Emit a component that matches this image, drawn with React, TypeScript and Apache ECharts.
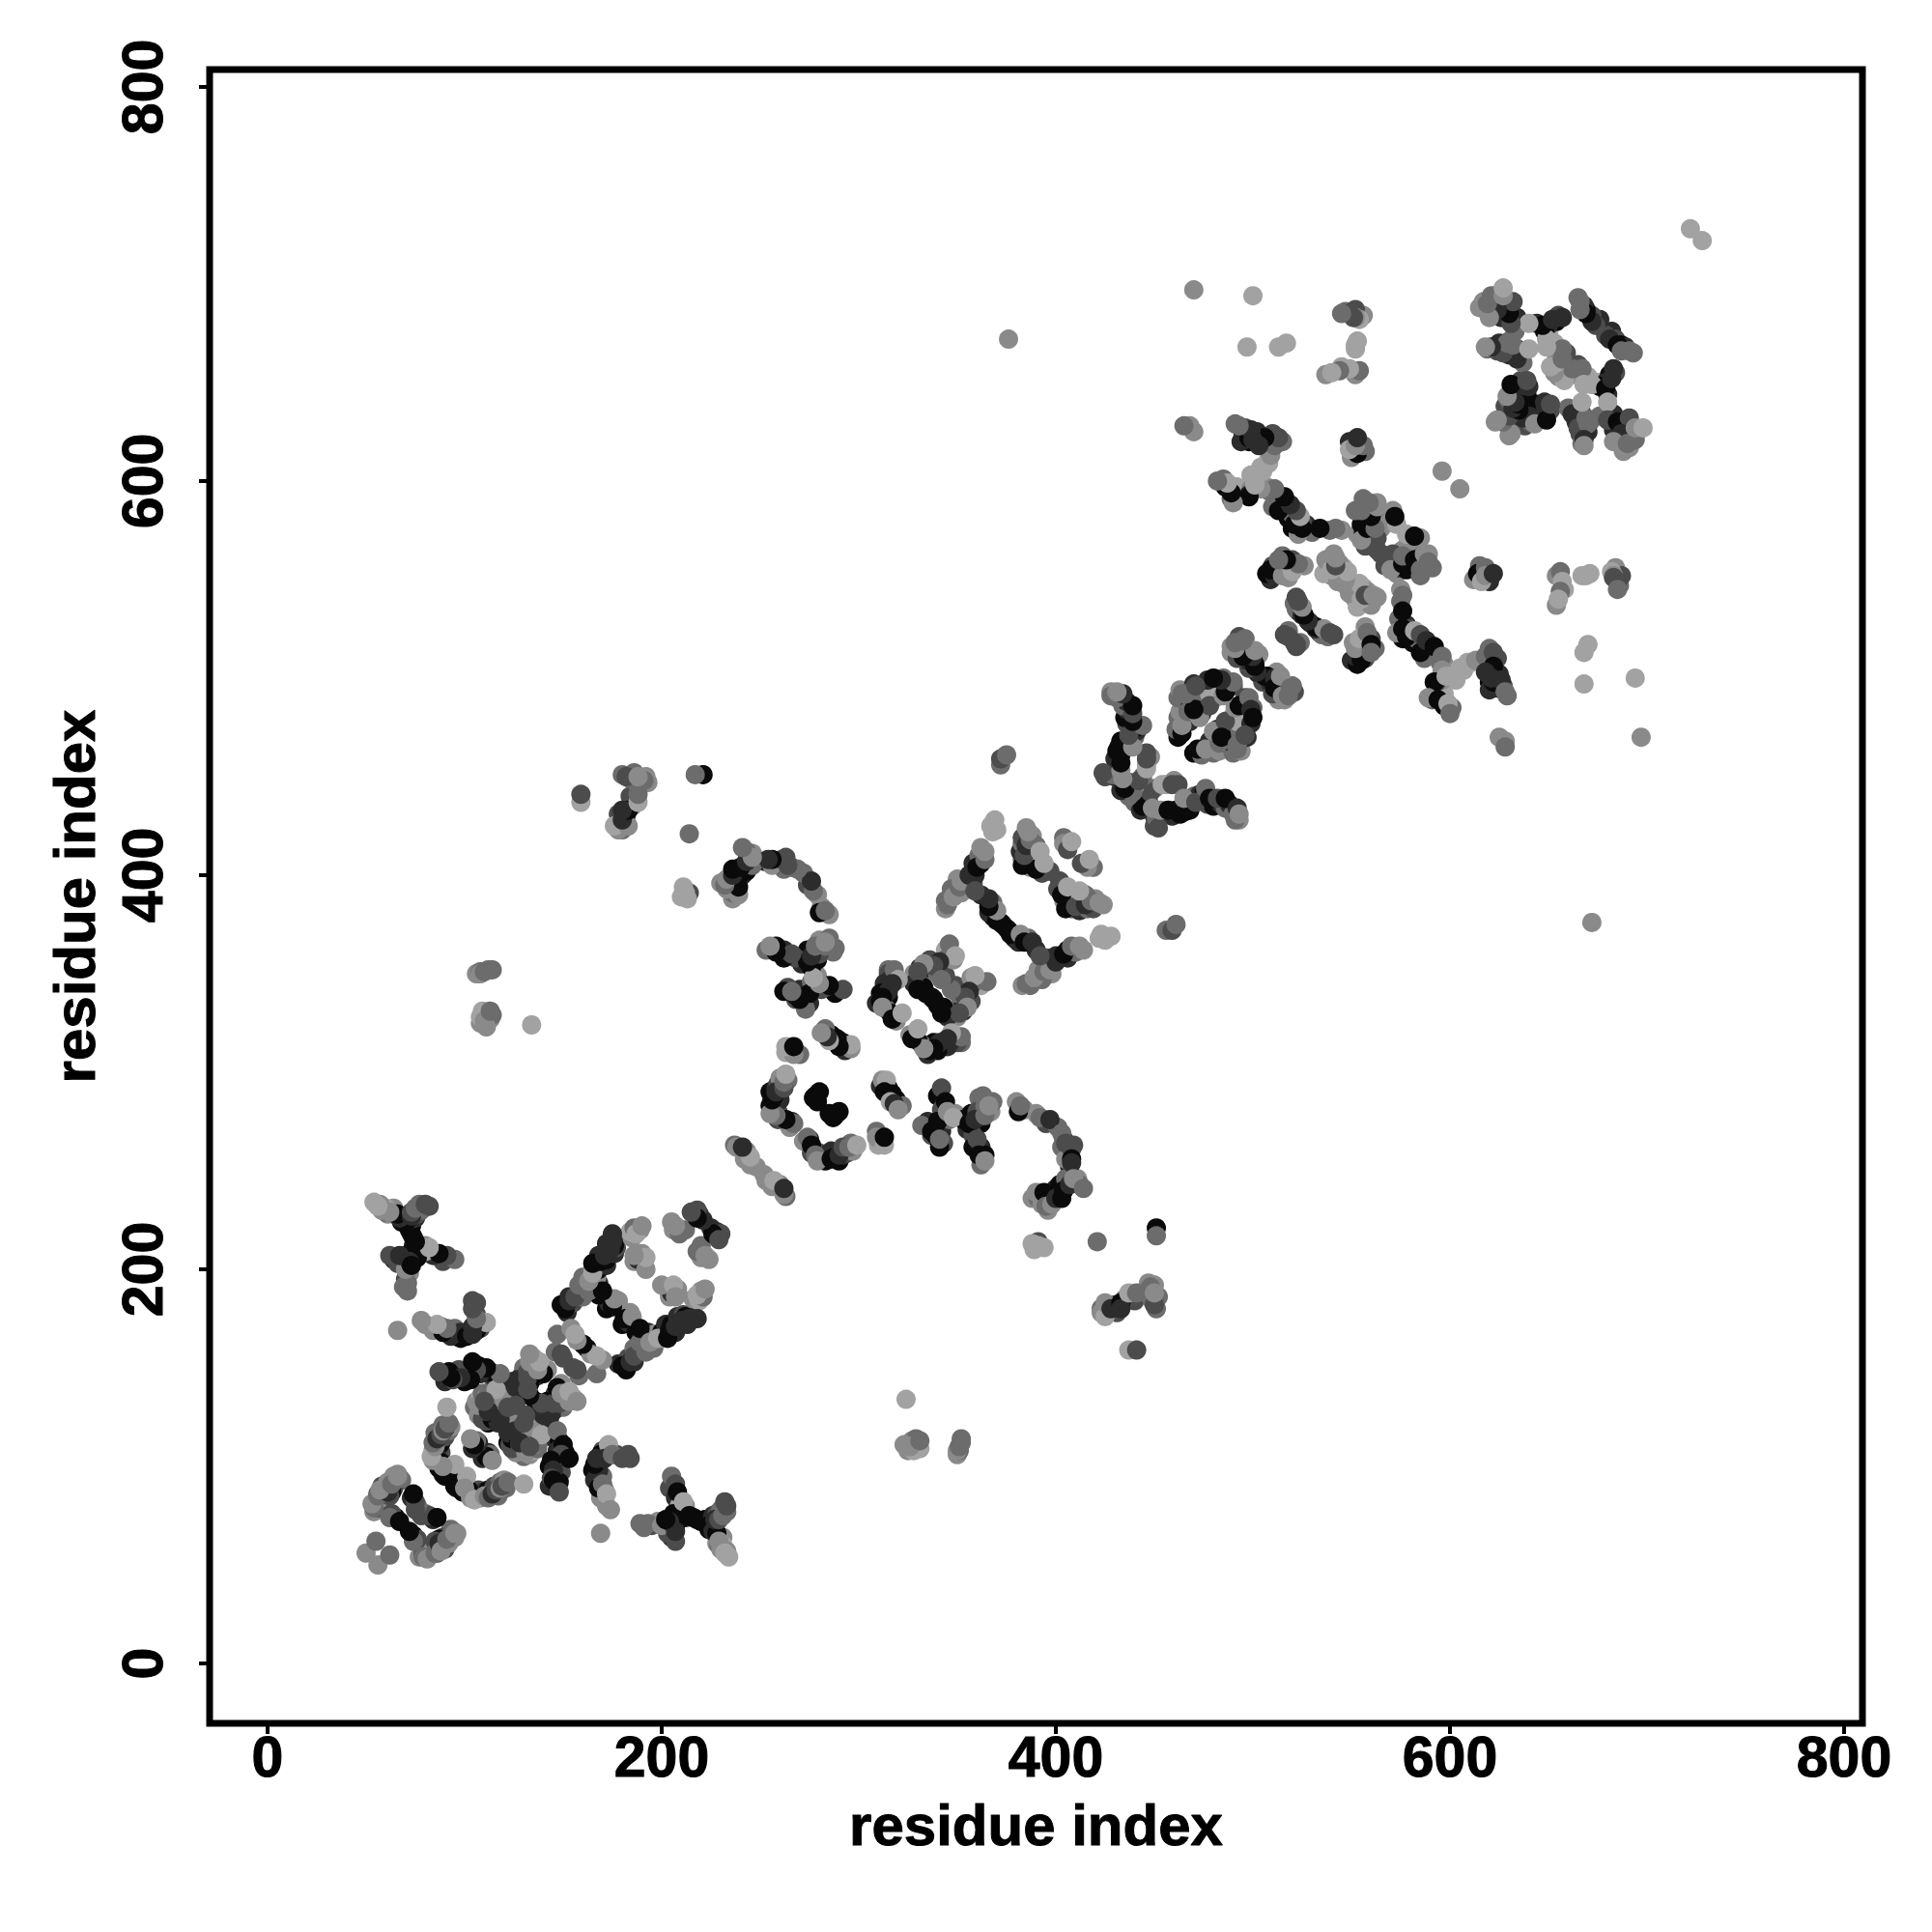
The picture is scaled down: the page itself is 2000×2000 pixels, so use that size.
import React, { useEffect, useRef } from "react";
import * as echarts from "echarts";

type Contact = [number, number, number];

const axisTicks = [0, 200, 400, 600, 800];
const axisTitle = "residue index";
const greys = ["#0a0a0a", "#2c2c2c", "#4c4c4c", "#6c6c6c", "#8a8a8a", "#a2a2a2"];

// each entry: residue i, residue j (i > j), grey level index. The map is symmetric.
const firstDomainUnder: Contact[] = [
  [77,54,4],[79,56,2],[82,55,4],[83,56,3],[84,58,4],[86,56,2],[86,59,3],[89,60,0],[90,58,2],[90,62,2],[92,64,4],[93,63,2],[95,64,4],[96,66,4],[93,68,3],[89,64,2],[87,63,0],
  [74,65,0],[76,63,2],[84,73,1],[80,76,3],[78,75,2],
  [98,92,0],[96,89,1],[99,87,0],[106,85,4],[108,84,4],[107,88,2],[110,87,1],[112,88,0],[113,85,3],[115,90,2],[117,85,3],[118,92,3],[120,93,4],[121,89,3],[112,107,1],[113,106,3],[109,104,1],
  [122,112,0],[125,116,1],[123,111,2],[128,113,1],[129,118,2],[130,112,4],[130,105,3],[133,106,4],[133,112,3],[135,108,5],[136,115,4],[138,113,3],[137,118,3],[140,119,3],[141,115,3],[131,120,4],[126,107,4],[124,109,2],
  [137,128,1],[136,133,0],[138,127,0],[141,131,2],[143,130,1],[144,134,3],[146,129,1],[146,135,2],[148,135,4],[150,130,3],[150,136,3],[151,134,4],[155,135,5],[149,142,4],[146,137,1],[141,125,2],[143,124,1],[142,133,0],[148,138,0],
  [146,114,1],[148,113,0],[151,107,0],[147,108,1],[150,104,1],[147,100,0],[146,102,1],[143,100,0],[149,97,2],[146,90,2],[143,90,1],[148,92,0],
  [170,108,2],[172,107,1],[169,106,0],[168,102,0],[165,98,0],[167,100,1],[167,94,2],[166,93,1],[170,95,3],[171,88,3],[169,84,4],[172,80,4],[177,106,2],[183,106,2],
  [195,70,2],[191,69,3],[198,72,4],[204,89,2],[207,84,1],[209,80,5],[212,80,4],[206,76,0],[203,70,1],[205,68,0],[205,64,1],[207,70,3],[203,66,2],[210,76,0],[212,74,1],[209,73,0],[218,73,0],[220,72,0],[222,73,0],[225,72,1],[226,75,1],[228,76,2],[230,78,3],[232,82,2],[233,77,3],[224,68,0],[227,69,2],[228,61,4],[231,64,4],[229,60,3],[231,60,5],[233,57,4],
  [155,150,2],[158,146,3],[180,172,0],[183,173,1],[184,178,4],[187,168,0],[182,149,0],[178,152,1],[183,155,2],[186,153,1],[188,158,2],[186,160,3],[191,161,1],[191,165,4],[193,168,1],[196,160,3],[196,167,4],[200,165,4],[200,168,0],[202,172,1],[205,172,0],[207,168,1],[208,176,1],[211,177,2],[213,172,1],[216,176,1],[212,176,0],[203,190,3],[204,186,4],[208,190,4],[220,189,4],[216,185,4],[219,184,5],[228,219,1],[225,221,1],[230,218,2],[220,206,4],[220,212,3],[224,205,4],
];
const secondDomainUnder: Contact[] = [
  [272,265,4],[276,259,2],[275,266,1],[280,259,2],[281,256,3],[284,258,1],[283,255,0],[286,260,1],[290,255,0],[292,258,1],[294,259,2],[297,260,4],[296,264,3],[290,280,0],[285,279,0],
  [311,293,1],[315,292,0],[319,286,0],[322,283,3],[315,290,2],[309,270,3],[310,263,5],[252,248,4],[256,242,4],[260,243,4],[263,237,3],
  [340,288,0],[343,283,1],[335,275,1],[339,272,0],[337,268,2],[343,275,1],[342,270,1],[339,268,0],[343,264,2],[346,276,3],[349,279,4],[342,281,2],
  [361,287,3],[355,271,1],[353,276,0],[357,279,0],[360,280,2],[362,274,0],[364,283,3],[367,280,4],[368,285,3],[358,268,2],[358,262,0],[362,262,1],[364,258,0],[362,253,3],
  [380,285,4],[384,281,4],[390,279,4],[395,274,2],[401,272,3],[404,266,2],[403,262,3],[409,263,2],[406,258,2],[407,252,1],[405,256,4],
  [388,236,4],[391,236,3],[393,236,1],[396,236,1],[398,237,0],[400,241,1],[402,243,0],[405,246,3],[411,246,4],[412,243,3],[396,230,4],[393,233,4],
  [389,210,5],[391,214,2],[423,180,3],[423,178,4],[430,182,2],[431,178,2],[435,185,3],[440,184,2],[446,188,4],[452,186,3],[449,184,3],[447,193,4],[450,192,4],[451,180,3],
  [325,108,4],[327,113,4],[329,111,1],[329,114,3],[328,108,5],[350,106,4],[352,114,3],[351,108,3],
];
const thirdDomainUnder: Contact[] = [
  [362,344,5],[358,345,3],[352,335,3],[357,336,2],[353,331,1],[350,328,4],[353,335,1],[352,315,3],[349,318,4],[350,315,2],[347,316,1],[343,314,1],[345,313,1],[340,311,0],[338,315,0],[335,309,1],[332,314,3],[330,316,0],[326,319,4],[343,333,0],[345,328,1],[338,337,0],[350,340,3],[349,344,2],[357,348,4],
  [376,372,0],[379,368,0],[381,366,1],[386,368,3],[390,362,1],[394,356,3],[396,358,2],[398,350,4],[393,347,3],[387,344,3],[383,344,4],[391,352,4],[402,358,0],[406,358,1],[406,362,0],[410,361,3],[414,362,4],[398,355,0],[400,359,1],
  [401,393,2],[404,387,4],[407,390,3],[408,383,3],[405,383,0],[412,382,1],[413,388,5],[416,383,3],[419,383,2],[420,388,4],[424,385,4],[410,389,5],[415,390,3],[423,370,5],[425,367,5],[419,404,3],[416,404,4],
];
const fourthDomainUnder: Contact[] = [
  [440,437,3],[443,433,1],[446,437,1],[445,440,4],[447,437,0],[450,430,1],[450,425,2],[451,429,3],[455,431,4],[459,430,1],[463,431,0],[468,433,0],[467,436,1],[470,440,3],[473,441,1],[475,441,0],[477,436,2],[480,435,0],[484,436,1],[486,434,3],[488,436,1],[490,431,3],[493,428,4],[491,428,3],[450,444,3],[456,446,5],[460,448,4],
  [470,462,0],[474,461,3],[480,462,3],[483,463,4],[488,466,3],[490,462,3],[494,468,2],[478,468,1],[482,474,1],[485,468,0],[489,472,3],[495,487,1],[497,482,0],[500,485,3],[496,490,2],[490,481,5],[492,478,5],[499,477,1],[494,463,4],
  [503,502,1],[505,498,2],[509,497,1],[512,503,4],[513,498,0],[516,496,3],[516,489,4],[518,491,4],[521,493,2],[520,496,3],[513,489,4],[510,492,2],
  [524,518,3],[521,518,2],[529,528,1],[534,523,0],[538,521,3],[541,522,2],[535,522,3],
];
const fifthDomainUnder: Contact[] = [
  [550,544,5],[552,540,4],[550,547,4],[556,546,5],[558,544,4],[559,540,3],[563,541,4],[553,536,5],[560,537,4],
  [550,509,1],[553,507,0],[557,510,2],[554,512,3],[556,518,2],[551,518,4],[562,515,3],[560,520,2],[557,526,4],[553,515,0],
  [568,562,3],[572,560,2],[567,557,2],[573,553,4],[574,556,1],[578,555,0],[576,565,4],[581,564,0],[578,560,1],[584,558,0],[583,562,3],[587,558,3],[585,552,3],[589,563,4],[591,556,3],[579,569,4],[585,571,4],
  [575,545,4],[574,530,3],[578,527,1],[576,520,0],[581,518,0],[579,525,2],[583,520,3],[588,516,0],[590,512,1],[593,513,1],[587,510,3],[595,508,3],[597,507,4],[594,496,2],[597,492,5],[591,489,3],[597,486,0],[601,485,3],[603,499,5],[607,504,5],[596,499,4],[611,508,5],
  [619,508,2],[620,515,3],[624,510,2],[620,504,1],[620,498,0],[625,502,1],[624,495,0],[627,496,2],[629,491,3],[620,494,1],
  [612,550,4],[615,557,3],[620,549,1],[654,552,4],[658,545,5],[654,537,4],[686,547,3],[684,556,4],[687,552,2],[669,552,5],
];
const sixthDomainUnder: Contact[] = [
  [630,627,3],[633,630,2],[636,635,0],[638,628,2],[641,630,3],[642,636,1],[646,634,2],[644,639,0],[648,636,1],[651,636,2],
  [655,653,4],[660,654,5],[664,654,4],[665,659,2],[670,653,5],[675,650,5],[681,654,0],[679,650,1],[684,655,2],[680,644,1],[676,648,0],
  [682,676,1],[684,672,2],[687,669,0],[689,668,1],[693,665,3],
  [664,630,1],[667,634,0],[671,630,3],[666,624,2],[670,625,1],[660,637,3],[667,619,3],
  [676,633,3],[683,634,1],[688,628,1],[690,626,2],[686,620,3],[692,624,3],[689,630,1],[685,625,0],[691,617,4],[683,626,1],[695,625,4],
];

const firstDomain: Contact[] = [
  [56,50,4],[62,55,3],[74,62,3],[72,67,0],[82,75,2],[86,74,0],
  [79,54,3],[81,53,4],[85,62,2],[85,56,3],[87,61,1],[88,58,1],[88,57,4],[92,61,4],[91,63,3],[94,67,3],[95,66,4],
  [102,88,0],[95,90,0],[101,95,5],[103,84,4],[100,89,4],[105,83,5],[110,85,4],[112,84,3],[111,105,0],[114,103,4],
  [114,86,1],[116,88,2],[118,89,4],[119,90,2],[122,92,3],[130,91,5],
];
const centralCross: Contact[] = [
  [124,114,0],[122,117,1],[127,115,0],[126,119,1],[127,122,4],[128,111,2],[132,116,3],[131,107,4],[132,109,4],[137,109,3],[135,111,4],[136,112,3],[134,120,4],[139,116,5],
  [139,132,1],[140,126,1],[142,129,1],[144,127,1],[145,132,2],[148,132,2],[147,140,0],[149,137,4],[153,133,4],[153,138,5],[157,133,4],
  [147,118,3],[150,111,0],[149,106,2],[144,103,0],[153,104,0],[145,98,1],[144,94,2],[145,93,0],[148,87,2],
  [128,112,1],[133,110,2],[124,118,1],[130,122,2],[131,126,2],[139,132,2],
];
const firstArms: Contact[] = [
  [173,111,5],[168,98,1],[166,101,0],[167,104,1],[171,104,1],[175,106,3],[180,104,2],[184,104,2],[168,89,0],[170,91,3],[172,86,5],[174,78,4],[169,66,4],
  [189,71,3],[193,71,3],[200,70,4],[205,95,3],[207,91,2],[208,87,0],[211,82,5],[207,62,2],[207,67,1],[204,72,1],[202,73,0],[214,75,0],[216,74,0],
  [224,70,0],[226,67,1],[228,66,0],[227,73,1],[229,73,2],[231,75,3],[233,80,2],[229,62,4],[230,58,4],[232,56,5],[234,54,5],
];
const firstLoop: Contact[] = [
  [157,149,2],[167,147,3],[162,160,0],[164,157,4],[170,154,4],[167,156,5],
  [181,175,0],[185,176,4],[180,151,0],[182,151,0],[184,153,1],[186,156,2],[192,158,3],[189,163,3],[189,170,0],[194,163,4],[198,165,5],
  [203,165,0],[204,169,0],[207,171,1],[210,174,1],[214,175,1],[218,175,1],
  [205,188,1],[200,192,4],[206,192,5],[207,186,4],[221,186,3],[218,187,5],[222,190,4],[226,218,0],[229,215,2],[218,209,3],[222,207,4],
];
const secondDomain: Contact[] = [
  [253,245,4],[257,245,5],[262,238,4],[262,241,1],
  [274,267,3],[276,263,0],[278,258,3],[279,255,4],[286,256,0],[288,257,0],[288,278,0],[287,277,0],[290,258,1],[292,262,2],[295,262,3],[299,263,5],
  [312,296,4],[314,296,5],[313,290,0],[317,289,0],[316,285,5],[318,284,1],[320,281,4],[309,267,4],[313,263,5],[313,267,0],
  [342,292,2],[344,285,0],[332,273,3],[337,270,0],[340,275,0],[341,262,0],[341,266,3],[345,280,4],[348,277,5],
  [363,288,3],[356,274,0],[359,276,1],[364,278,3],[366,283,4],[360,266,2],[361,258,0],[364,255,4],
  [381,280,0],[382,283,3],[392,277,3],[397,276,1],[403,269,3],[405,264,2],[408,261,2],[408,256,0],[408,254,1],
  [390,239,4],[394,239,0],[395,232,3],[398,233,4],[400,236,1],[403,236,0],[404,240,0],[407,243,1],[409,246,4],[414,241,3],
  [388,213,5],[394,211,5],[391,212,5],[421,214,3],[451,221,0],[451,217,3],
  [425,176,5],[425,183,4],[428,180,1],[433,183,0],[433,180,1],[437,188,5],[441,188,3],[450,182,2],[448,191,3],[450,188,4],
  [437,159,5],[441,159,2],
  [324,134,5],[323,111,4],[331,109,5],[326,110,4],[331,113,3],[350,108,4],[351,110,3],[352,112,3],
];
const thirdDomain: Contact[] = [
  [365,346,3],[359,349,5],[356,341,1],[354,338,2],[355,333,4],[351,330,2],[352,318,3],[347,320,5],[345,317,1],[341,315,1],[338,312,0],[336,311,0],
  [333,312,4],[327,317,0],[330,322,5],[342,330,0],[340,334,0],[347,342,3],
  [375,373,0],[377,370,0],[382,370,4],[384,366,0],[388,366,1],[385,345,3],[389,348,4],[394,351,3],[397,352,4],[400,356,1],[392,359,2],[404,360,0],[408,364,3],[412,364,4],
  [402,397,2],[403,390,0],[406,394,5],[410,384,2],[415,385,1],[418,387,3],[412,392,5],[422,386,4],[413,406,2],[417,408,5],[422,368,5],[428,369,5],
  [456,372,3],[459,372,2],[461,375,3],
];
const fourthDomain: Contact[] = [
  [442,439,3],[444,435,0],[448,442,2],[449,434,4],[452,424,2],[453,433,4],[457,433,0],[461,433,0],[465,432,0],[454,446,5],[459,446,2],[462,446,2],[465,439,4],[471,437,2],[476,444,3],[478,439,0],[482,439,2],[486,439,0],[492,434,1],[493,431,4],
  [472,464,0],[476,464,4],[483,467,3],[484,471,0],[480,473,4],[486,478,2],[484,470,0],[492,464,3],[491,485,4],[493,486,0],[497,470,1],[492,466,3],[496,471,2],[498,490,3],[499,484,1],[500,480,0],
  [506,501,0],[507,501,0],[511,500,1],[511,495,0],[515,491,4],[514,501,4],[519,495,3],[518,491,3],
  [517,522,2],[522,516,2],[532,525,1],[532,526,0],[536,525,4],[539,523,2],
];
const fifthDomain: Contact[] = [
  [549,543,4],[548,546,4],[554,548,5],[555,540,5],[557,542,2],[561,542,4],
  [552,511,1],[555,509,0],[552,515,4],[554,520,5],[558,523,3],[560,517,0],[560,513,3],
  [565,563,2],[571,563,2],[570,555,4],[576,558,0],[576,562,3],[578,573,5],[582,572,0],[582,560,0],[585,555,3],[587,563,4],[589,559,3],
  [576,542,3],[575,539,3],[576,534,0],[573,523,4],[576,525,0],[578,521,0],[582,524,5],[585,522,2],[585,513,0],[588,519,1],[592,516,0],[596,511,3],[596,504,4],
  [593,498,1],[592,498,0],[598,501,5],[589,490,4],[594,489,0],[599,487,5],[600,482,3],[600,501,5],[605,505,5],[609,508,5],[613,509,4],
  [618,511,3],[622,513,2],[622,506,0],[618,503,1],[622,498,0],[621,500,1],[626,499,1],[628,493,3],
  [614,553,0],[618,556,3],[616,549,5],[618,552,4],[622,553,1],
  [625,470,4],[628,468,4],[628,465,3],
  [605,596,4],[630,623,4],
  [656,554,3],[657,549,5],[656,544,3],[655,540,5],[667,552,5],[671,553,5],[682,554,5],[683,552,4],[683,551,2],[685,549,2],[685,545,3],
  [668,513,5],[670,517,5],[668,497,5],[694,500,5],[697,470,4],[672,376,4],
];
const sixthDomain: Contact[] = [
  [631,624,4],[637,632,1],[639,635,0],[640,633,1],[643,629,4],[649,631,0],[648,640,1],[651,639,2],
  [658,651,5],[662,657,3],[667,657,3],[668,649,5],[672,649,5],[679,647,0],[682,652,1],[683,657,1],
  [679,674,2],[681,672,1],[685,669,0],[687,666,3],[691,666,3],
  [662,634,1],[665,627,2],[669,632,3],[670,629,3],[668,621,1],[668,618,4],[667,640,5],[680,640,5],
  [680,631,2],[685,630,0],[691,632,2],[687,624,1],[683,620,4],[688,615,4],[690,619,3],[694,621,3],[694,627,4],[698,627,5],
  [728,722,5],
];

const lowerHalf: Contact[] = [
  ...firstDomainUnder, ...secondDomainUnder, ...thirdDomainUnder, ...fourthDomainUnder, ...fifthDomainUnder, ...sixthDomainUnder,
  ...firstDomain, ...centralCross, ...firstArms, ...firstLoop,
  ...secondDomain, ...thirdDomain, ...fourthDomain, ...fifthDomain, ...sixthDomain,
];
const mirrored: Contact[] = lowerHalf.map(([i, j, s]) => [j, i, s]);

const axis = (title: string, rotate: number, min: number, max: number, nameGap: number, margin: number) => ({
  type: "value",
  min,
  max,
  name: title,
  nameLocation: "middle",
  nameGap,
  nameTextStyle: { fontFamily: "Liberation Sans", fontWeight: "bold", fontSize: 60, color: "#000", textBorderColor: "#000", textBorderWidth: 1 },
  splitLine: { show: false },
  axisLine: { show: false, onZero: false },
  axisTick: { show: true, length: 11, inside: false, customValues: axisTicks, lineStyle: { color: "#000", width: 4 } },
  axisLabel: {
    show: true,
    customValues: axisTicks,
    rotate,
    margin,
    hideOverlap: false,
    fontFamily: "Liberation Sans",
    fontWeight: "bold",
    fontSize: 59,
    color: "#000",
    textBorderColor: "#000",
    textBorderWidth: 1,
  },
});

export default function App() {
  const ref = useRef<HTMLDivElement>(null);
  useEffect(() => {
    const chart = echarts.init(ref.current!, undefined, { renderer: "svg" });
    chart.setOption({
      animation: false,
      backgroundColor: "#fff",
      grid: { left: 217, top: 72, width: 1711, height: 1712, show: true, borderColor: "#000", borderWidth: 7, backgroundColor: "#fff" },
      xAxis: axis(axisTitle, 0, -29.4, 809.3, 75, 5),
      yAxis: axis(axisTitle, 90, -30.4, 808.8, 110, 40),
      series: [
        {
          type: "scatter",
          symbol: "circle",
          symbolSize: 20,
          clip: false,
          encode: { x: 0, y: 1 },
          data: [...lowerHalf, ...mirrored],
          itemStyle: { opacity: 1, color: (p: any) => greys[p.value[2]] },
        },
      ],
    });
    return () => chart.dispose();
  }, []);
  return <div ref={ref} style={{ position: "absolute", left: 0, top: 0, width: 2000, height: 2000 }} />;
}
